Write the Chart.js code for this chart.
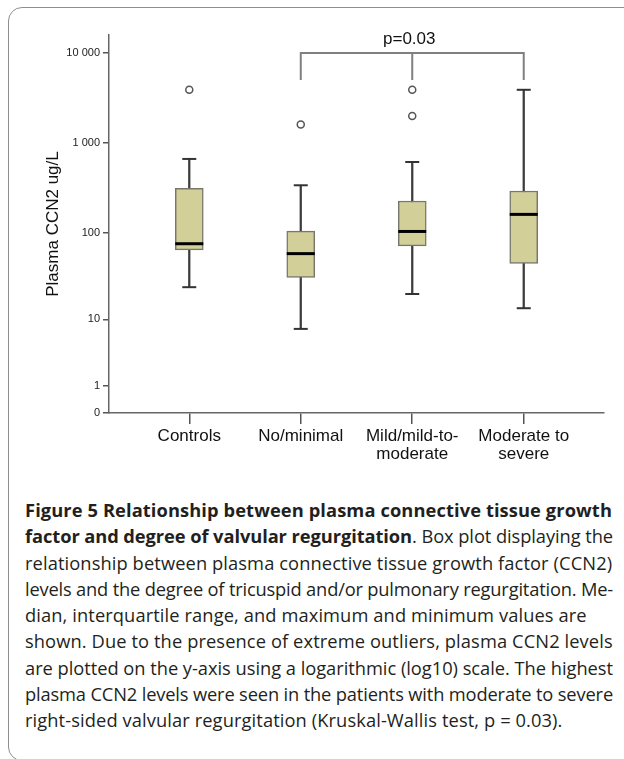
<!DOCTYPE html>
<html>
<head>
<meta charset="utf-8">
<script src="https://cdn.jsdelivr.net/npm/chart.js@4.4.1/dist/chart.umd.min.js"></script>
<style>
  html, body { margin: 0; padding: 0; background: #fff; }
  body { width: 624px; height: 759px; position: relative; overflow: hidden; }
  #frame {
    position: absolute; left: 8px; top: 7px; width: 700px; height: 754px;
    border: 1.5px solid #8e8e8e; border-radius: 14px; box-sizing: border-box;
  }
  #plot { position: absolute; left: 0; top: 0; }
  #caption {
    position: absolute; left: 25px; top: 497px; width: 588px;
    font-family: "Open Sans", sans-serif; font-size: 18.3px; line-height: 26.3px;
    letter-spacing: 0.1px; color: #231f20; white-space: nowrap;
  }
  #caption > div { display: block; width: max-content; }
  #caption b { font-weight: 700; }
</style>
</head>
<body>
<div id="frame"></div>
<canvas id="plot" width="624" height="473"></canvas>
<div id="caption">
  <div><b>Figure 5 Relationship between plasma connective tissue growth</b></div>
  <div><b>factor and degree of valvular regurgitation</b>. Box plot displaying the</div>
  <div>relationship between plasma connective tissue growth factor (CCN2)</div>
  <div>levels and the degree of tricuspid and/or pulmonary regurgitation. Me-</div>
  <div>dian, interquartile range, and maximum and minimum values are</div>
  <div>shown. Due to the presence of extreme outliers, plasma CCN2 levels</div>
  <div>are plotted on the y-axis using a logarithmic (log10) scale. The highest</div>
  <div>plasma CCN2 levels were seen in the patients with moderate to severe</div>
  <div>right-sided valvular regurgitation (Kruskal-Wallis test, p = 0.03).</div>
</div>
<script>
// Groups on the x axis (each entry is one label, split into its printed lines)
const categoryLines = [['Controls'], ['No/minimal'], ['Mild/mild-to-', 'moderate'], ['Moderate to', 'severe']];

// Plasma CCN2 (ug/L) five-number summaries per group
const whiskerLow  = [24, 7.6, 20, 13.6];
const quartile1   = [64, 31, 71, 45];
const medians     = [75, 58, 103, 160];
const quartile3   = [313, 104, 226, 292];
const whiskerHigh = [664, 338, 614, 3900];
// Outlying observations per group
const outliers    = [[3900], [1600], [3900, 2000], []];

// y axis ticks (ug/L) and their printed labels
const yTickValues = [0, 1, 10, 100, 1000, 10000];
const yTickLabels = ['0', '1', '10', '100', '1 000', '10 000'];

// Significance bracket between No/minimal, Mild and Moderate groups
const bracketGroups = [2, 3, 4];
const bracketTop = 10000;
const bracketFoot = 5000;
const pValueLabel = 'p=0.03';

// The axis is log10(value + 1) so that zero can be shown
const toAxis = v => Math.log10(v + 1);

// Tighten any caption line that would run past the column edge
(function fitCaption() {
  const box = document.getElementById('caption');
  const column = box.clientWidth;
  for (const line of box.children) {
    const w = line.getBoundingClientRect().width;
    if (w > column) {
      const chars = line.textContent.length;
      const base = parseFloat(getComputedStyle(line).letterSpacing) || 0;
      line.style.letterSpacing = (base - (w - column) / chars) + 'px';
    }
  }
})();

const FONT = '"Liberation Sans", Arial, Helvetica, sans-serif';
Chart.defaults.font.family = FONT;

const groupX = categoryLines.map((_, i) => i + 1);

const whiskerData = groupX.map((x, i) => ({ x, y: [toAxis(whiskerLow[i]), toAxis(whiskerHigh[i])] }));
const boxData = groupX.map((x, i) => ({ x, y: [toAxis(quartile1[i]), toAxis(quartile3[i])] }));
const medianData = groupX.map((x, i) => ({ x, y: toAxis(medians[i]) }));
const capData = groupX.flatMap((x, i) => [{ x, y: toAxis(whiskerLow[i]) }, { x, y: toAxis(whiskerHigh[i]) }]);
const outlierData = groupX.flatMap((x, i) => outliers[i].map(v => ({ x, y: toAxis(v) })));

const [bLeft, bMid, bRight] = bracketGroups;
const bracketData = [
  { x: bLeft, y: toAxis(bracketFoot) }, { x: bLeft, y: toAxis(bracketTop) },
  { x: bRight, y: toAxis(bracketTop) }, { x: bRight, y: toAxis(bracketFoot) }
];
const stemData = [{ x: bMid, y: toAxis(bracketTop) }, { x: bMid, y: toAxis(bracketFoot) }];

// Writes the p value above the bracket
const pLabelPlugin = {
  id: 'pLabel',
  afterDatasetsDraw(chart) {
    const { ctx, scales: { x, y } } = chart;
    ctx.save();
    ctx.font = '17px ' + FONT;
    ctx.fillStyle = '#111';
    ctx.textAlign = 'center';
    ctx.textBaseline = 'bottom';
    ctx.fillText(pValueLabel, x.getPixelForValue(bMid) - 3, y.getPixelForValue(toAxis(bracketTop)) - 5);
    ctx.restore();
  }
};

new Chart(document.getElementById('plot'), {
  type: 'bar',
  data: {
    datasets: [
      {
        label: 'whiskers', data: whiskerData, barThickness: 1.6, grouped: false,
        backgroundColor: '#3c3c3c', borderWidth: 0, order: 6
      },
      {
        label: 'boxes', data: boxData, barThickness: 28, grouped: false,
        backgroundColor: '#d3cf98', borderColor: '#77776c', borderWidth: 1.5,
        borderSkipped: false, order: 5
      },
      {
        type: 'scatter', label: 'medians', data: medianData, pointStyle: 'line',
        pointRadius: 14, pointHoverRadius: 14, pointBorderColor: '#000', pointBorderWidth: 3, order: 4
      },
      {
        type: 'scatter', label: 'caps', data: capData, pointStyle: 'line',
        pointRadius: 7, pointHoverRadius: 7, pointBorderColor: '#333', pointBorderWidth: 2, order: 4
      },
      {
        type: 'scatter', label: 'outliers', data: outlierData, pointStyle: 'circle',
        pointRadius: 3.5, pointHoverRadius: 3.5, pointBackgroundColor: '#fff',
        pointBorderColor: '#555', pointBorderWidth: 1.5, order: 3
      },
      {
        type: 'line', label: 'bracket', data: bracketData, borderColor: '#808080', borderWidth: 2,
        pointRadius: 0, tension: 0, fill: false, order: 2
      },
      {
        type: 'line', label: 'stem', data: stemData, borderColor: '#808080', borderWidth: 2,
        pointRadius: 0, tension: 0, fill: false, order: 2
      }
    ]
  },
  options: {
    responsive: false,
    animation: false,
    events: [],
    layout: { padding: { left: 0, right: 20, top: 35, bottom: 0 } },
    plugins: { legend: { display: false }, tooltip: { enabled: false } },
    scales: {
      x: {
        type: 'linear', min: 0.28, max: 4.72, offset: false,
        afterBuildTicks: s => { s.ticks = groupX.map(v => ({ value: v })); },
        ticks: {
          callback: (val, i) => categoryLines[i], autoSkip: false, maxRotation: 0,
          font: { size: 17, lineHeight: 1.06 }, color: '#111', padding: 3
        },
        grid: { offset: false, drawOnChartArea: false, drawTicks: true, tickLength: 11, color: '#555', lineWidth: 1.5 },
        border: { display: true, color: '#666', width: 1.5 },
        afterFit: s => { s.height = 60; }
      },
      y: {
        type: 'linear', min: 0, max: 4.2,
        afterBuildTicks: s => { s.ticks = yTickValues.map(v => ({ value: toAxis(v) })); },
        ticks: { callback: (val, i) => yTickLabels[i], font: { size: 11 }, color: '#222', padding: 3 },
        grid: { drawOnChartArea: false, drawTicks: true, tickLength: 6, color: '#555', lineWidth: 1.5 },
        border: { display: true, color: '#666', width: 1.5 },
        title: { display: true, text: 'Plasma CCN2 ug/L', font: { size: 17 }, color: '#111', padding: { top: 43, bottom: 0 } },
        afterFit: s => { s.width = 109; }
      }
    }
  },
  plugins: [pLabelPlugin]
});
</script>
</body>
</html>
